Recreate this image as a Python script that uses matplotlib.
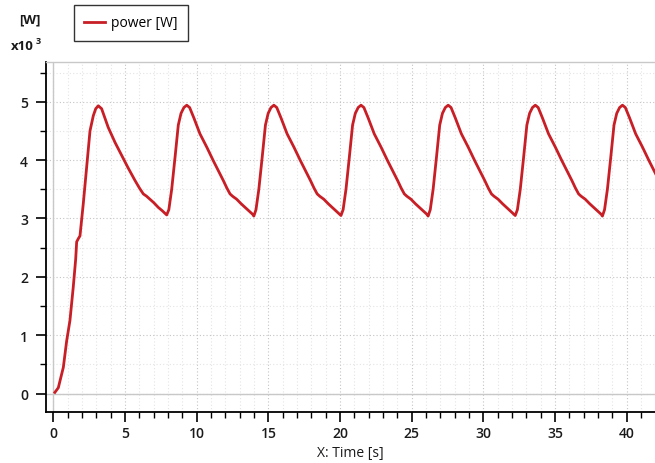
"""
power [W] over time, redrawn from a simulation result plot.
Saves out.png (655x464).
"""

import matplotlib
matplotlib.use("Agg")
import matplotlib.pyplot as plt
from matplotlib.ticker import MultipleLocator

# time [s], start-up + six steady cycles
TIME = [
    0.1, 0.34, 0.69, 0.92, 1.15, 1.38, 1.55, 1.62, 1.75, 1.85, 2.08, 2.32, 2.55, 2.78,
    2.95, 3.13, 3.36, 3.82, 4.3, 4.76, 5.2, 5.69, 6.0, 6.27, 6.5, 6.73, 7.0, 7.31, 7.6, 7.9,
    8.05, 8.25, 8.48, 8.71, 8.9, 9.1, 9.3, 9.5, 9.8, 10.22, 10.7, 11.15, 11.5, 11.85,
    12.1, 12.32, 12.5, 12.78, 13.1, 13.5, 13.9, 13.98,
    14.13, 14.33, 14.56, 14.79, 14.98, 15.18, 15.38, 15.58, 15.88, 16.3, 16.78, 17.23,
    17.58, 17.93, 18.18, 18.4, 18.58, 18.86, 19.18, 19.58, 19.98, 20.06,
    20.21, 20.41, 20.64, 20.87, 21.06, 21.26, 21.46, 21.66, 21.96, 22.38, 22.86, 23.31,
    23.66, 24.01, 24.26, 24.48, 24.66, 24.94, 25.26, 25.66, 26.06, 26.14,
    26.29, 26.49, 26.72, 26.95, 27.14, 27.34, 27.54, 27.74, 28.04, 28.46, 28.94, 29.39,
    29.74, 30.09, 30.34, 30.56, 30.74, 31.02, 31.34, 31.74, 32.14, 32.22,
    32.37, 32.57, 32.8, 33.03, 33.22, 33.42, 33.62, 33.82, 34.12, 34.54, 35.02, 35.47,
    35.82, 36.17, 36.42, 36.64, 36.82, 37.1, 37.42, 37.82, 38.22, 38.3,
    38.45, 38.65, 38.88, 39.11, 39.3, 39.5, 39.7, 39.9, 40.2, 40.62, 41.1, 41.55,
    41.9, 42.25,
]

# power [kW] (axis shows x10^3 W)
POWER = [
    0.02, 0.1, 0.45, 0.9, 1.25, 1.82, 2.3, 2.6, 2.66, 2.7, 3.25, 3.88, 4.5, 4.76,
    4.88, 4.93, 4.88, 4.56, 4.3, 4.08, 3.87, 3.65, 3.52, 3.42, 3.38, 3.33, 3.27, 3.19, 3.13, 3.06,
    3.15, 3.5, 4.04, 4.6, 4.8, 4.9, 4.94, 4.9, 4.72, 4.45, 4.22, 3.99, 3.82, 3.65,
    3.52, 3.42, 3.38, 3.33, 3.25, 3.16, 3.07, 3.04,
    3.15, 3.5, 4.04, 4.6, 4.8, 4.9, 4.94, 4.9, 4.72, 4.45, 4.22, 3.99,
    3.82, 3.65, 3.52, 3.42, 3.38, 3.33, 3.25, 3.16, 3.07, 3.05,
    3.15, 3.5, 4.04, 4.6, 4.8, 4.9, 4.94, 4.9, 4.72, 4.45, 4.22, 3.99,
    3.82, 3.65, 3.52, 3.42, 3.38, 3.33, 3.25, 3.16, 3.07, 3.04,
    3.15, 3.5, 4.04, 4.6, 4.8, 4.9, 4.94, 4.9, 4.72, 4.45, 4.22, 3.99,
    3.82, 3.65, 3.52, 3.42, 3.38, 3.33, 3.25, 3.16, 3.07, 3.05,
    3.15, 3.5, 4.04, 4.6, 4.8, 4.9, 4.94, 4.9, 4.72, 4.45, 4.22, 3.99,
    3.82, 3.65, 3.52, 3.42, 3.38, 3.33, 3.25, 3.16, 3.07, 3.04,
    3.15, 3.5, 4.04, 4.6, 4.8, 4.9, 4.94, 4.9, 4.72, 4.45, 4.22, 3.99,
    3.82, 3.65,
]

LINE_RED = "#c81e26"
GRID_MAJOR = "#c4c4c4"
GRID_MINOR = "#e4e4e4"
FRAME_GRAY = "#c8c8c8"

W, H = 655, 464


def main() -> None:
    plt.rcParams["font.family"] = ["Open Sans", "DejaVu Sans"]

    fig = plt.figure(figsize=(W / 100, H / 100), dpi=100)
    fig.patch.set_facecolor("white")
    ax = fig.add_axes([46 / W, 1 - 413 / H, 1 - 46 / W, (413 - 63) / H])

    line, = ax.plot(TIME, POWER, color=LINE_RED, linewidth=2.0,
                    solid_joinstyle="round", label="power [W]")

    ax.set_xlim(-0.52, 41.97)
    ax.set_ylim(-0.316, 5.68)

    ax.xaxis.set_major_locator(MultipleLocator(5))
    ax.xaxis.set_minor_locator(MultipleLocator(1))
    ax.yaxis.set_major_locator(MultipleLocator(1))
    ax.yaxis.set_minor_locator(MultipleLocator(0.5))

    ax.grid(which="major", color=GRID_MAJOR, linestyle=(0, (1, 2)), linewidth=0.8)
    ax.grid(which="minor", color=GRID_MINOR, linestyle=(0, (1, 2)), linewidth=0.8)
    ax.axhline(0, color=FRAME_GRAY, linewidth=1.0, zorder=1)
    ax.axvline(0, color=FRAME_GRAY, linewidth=1.0, zorder=1)
    ax.set_axisbelow(True)

    for side in ("left", "bottom"):
        ax.spines[side].set_color("black")
        ax.spines[side].set_linewidth(1.3)
    ax.spines["top"].set_color(FRAME_GRAY)
    ax.spines["top"].set_linewidth(1.0)
    ax.spines["right"].set_visible(False)

    ax.tick_params(which="major", direction="out", length=7, width=1.2,
                   color="black", labelsize=10, labelcolor="#1a1a1a")
    ax.tick_params(which="minor", direction="out", length=4, width=1.0, color="black")
    ax.tick_params(axis="y", which="major", pad=6)
    ax.tick_params(axis="x", which="major", pad=3)
    for lab in ax.get_xticklabels() + ax.get_yticklabels():
        lab.set_fontweight("semibold")

    ax.set_xlabel("X: Time [s]", fontsize=10, color="#1a1a1a", labelpad=4)

    # unit labels top-left
    fig.text(30 / W, 1 - 20 / H, "[W]", fontsize=9.5, fontweight="bold",
             ha="center", va="center", color="#1a1a1a")
    fig.text(34 / W, 1 - 46 / H, "x10", fontsize=9.5, fontweight="bold",
             ha="right", va="center", color="#1a1a1a")
    fig.text(36 / W, 1 - 41 / H, "3", fontsize=6.5, fontweight="bold",
             ha="left", va="center", color="#1a1a1a")

    leg = fig.legend(handles=[line], loc="upper left",
                     bbox_to_anchor=(74 / W, 1 - 6 / H), fontsize=10,
                     frameon=True, fancybox=False, handlelength=1.5,
                     handletextpad=0.4, borderpad=0.75, borderaxespad=0)
    leg.get_frame().set_edgecolor("black")
    leg.get_frame().set_linewidth(1.0)

    fig.savefig("out.png", dpi=100, facecolor="white")
    plt.close(fig)


if __name__ == "__main__":
    main()
